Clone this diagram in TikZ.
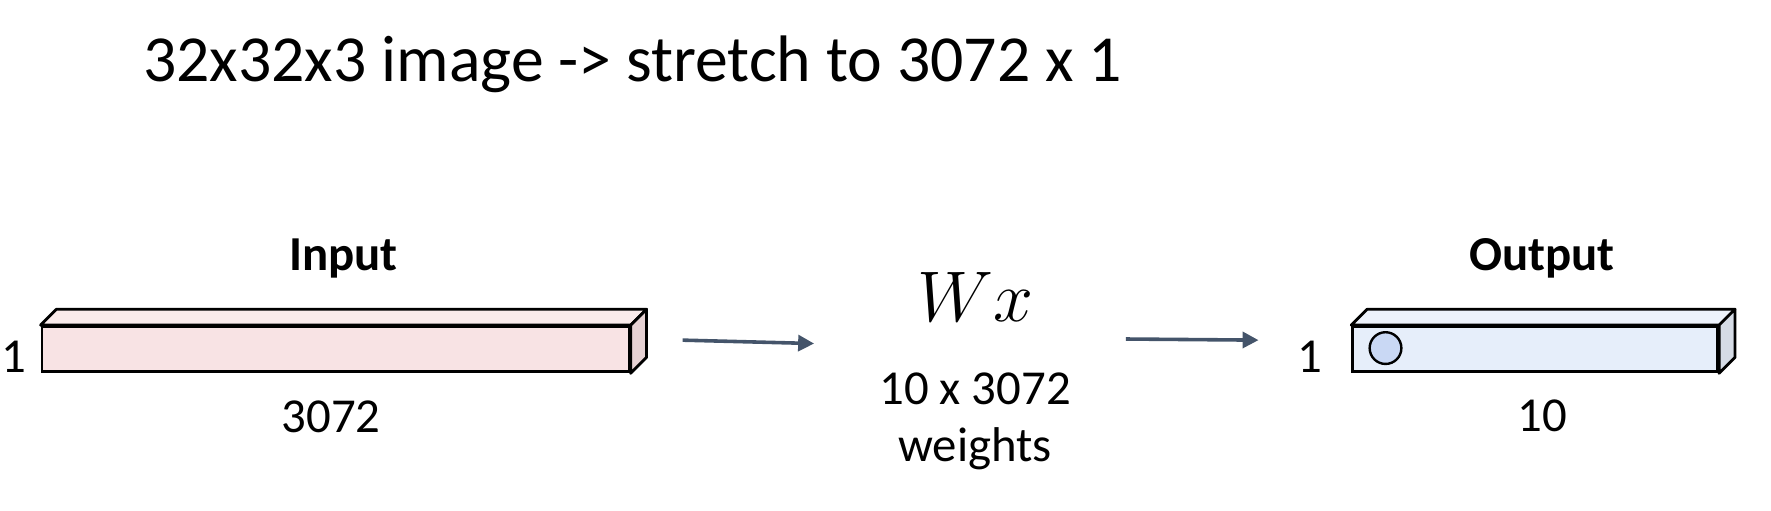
\RequirePackage{fix-cm}
\documentclass[tikz,border=0pt]{standalone}
\usepackage{fontspec}
\setmainfont{Carlito}
\usepackage{amsmath}
\usetikzlibrary{shapes,positioning,fit,calc,arrows.meta}

\definecolor{inpink}{HTML}{F8E3E4}
\definecolor{inpinktop}{HTML}{FAEBEB}
\definecolor{inpinkside}{HTML}{E6D2D4}
\definecolor{outblue}{HTML}{E6EEFA}
\definecolor{outbluetop}{HTML}{EDF2FB}
\definecolor{outblueside}{HTML}{D5DBE5}
\definecolor{cellblue}{HTML}{C9D8F4}
\definecolor{arrowgray}{HTML}{44546A}

\begin{document}
\begin{tikzpicture}[
    bar/.style={draw, line width=1.4pt, inner sep=0pt, minimum height=0.8cm},
    lab/.style={font=\fontsize{24.5}{29}\selectfont},
    flow/.style={draw=arrowgray, line width=1.8pt,
        -{Triangle[length=8pt, width=8pt]}}
]

        \def\d{.28}

        % fixes the margins of the page
        \useasboundingbox (0, 0) rectangle (31.24, 9);

        \node[anchor=west, font=\fontsize{33}{38}\selectfont] (T) at (2.4, 7.86)
        {32x32x3 image -> stretch to 3072 x 1};

        % Scope used for the input bar
        \begin{scope}
            \node[bar, fill=inpink, minimum width=10.36cm] (In) at (5.92, 2.84) {};
            \filldraw[fill=inpinktop, line width=1.4pt, line join=round]
                (In.north west) -- ++(\d, \d) -- ($(In.north east)+(\d, \d)$)
                -- (In.north east) -- cycle;
            \filldraw[fill=inpinkside, line width=1.4pt, line join=round]
                (In.north east) -- ++(\d, \d) -- ($(In.south east)+(\d, \d)$)
                -- (In.south east) -- cycle;
            \node[font=\fontsize{24.5}{29}\selectfont\bfseries] (InT) at (6.06, 4.44) {Input};
            \node[lab] (InH) at (0.24, 2.7) {1};
            \node[lab] (InW) at (5.84, 1.64) {3072};
        \end{scope}

        % Scope used for the weights in the middle
        \begin{scope}
            \node[font=\fontsize{36}{42}\selectfont] (W) at (17.2, 3.76) {$Wx$};
            \node[lab] (WS) at (17.2, 2.14) {10 x 3072};
            \node[lab] (WL) [below=0.15cm of WS] {weights};
        \end{scope}

        % Scope used for the output bar
        \begin{scope}
            \node[bar, fill=outblue, minimum width=6.44cm] (Out) at (27.08, 2.84) {};
            \filldraw[fill=outbluetop, line width=1.4pt, line join=round]
                (Out.north west) -- ++(\d, \d) -- ($(Out.north east)+(\d, \d)$)
                -- (Out.north east) -- cycle;
            \filldraw[fill=outblueside, line width=1.4pt, line join=round]
                (Out.north east) -- ++(\d, \d) -- ($(Out.south east)+(\d, \d)$)
                -- (Out.south east) -- cycle;
            \node[circle, draw, line width=1.2pt, fill=cellblue,
                minimum size=0.56cm, inner sep=0pt] (C1) at (24.44, 2.86) {};
            \node[font=\fontsize{24.5}{29}\selectfont\bfseries] (OutT) at (27.2, 4.44) {Output};
            \node[lab] (OutH) at (23.1, 2.7) {1};
            \node[lab] (OutW) at (27.2, 1.66) {10};
        \end{scope}

        % arrow ends
        \coordinate (A1) at (12.04, 3.0);
        \coordinate (A2) at (14.36, 2.94);
        \coordinate (B1) at (19.86, 3.02);
        \coordinate (B2) at (22.2, 3.0);

        \begin{scope}
            \draw[flow] (A1) -- (A2);
            \draw[flow] (B1) -- (B2);
        \end{scope}

\end{tikzpicture}
\end{document}
